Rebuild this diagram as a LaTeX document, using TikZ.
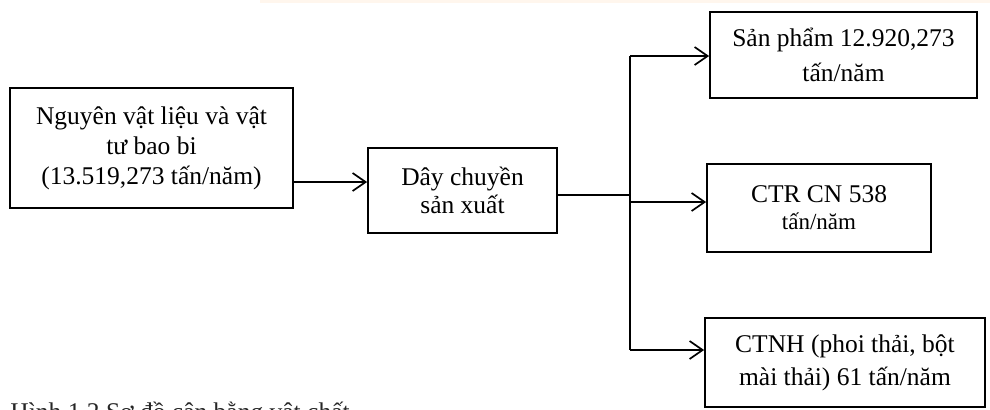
\documentclass[tikz,border=0pt]{standalone}
\usepackage{fontspec}
\setmainfont{Liberation Serif}
\usetikzlibrary{arrows.meta}
\begin{document}
\begin{tikzpicture}[x=0.5pt,y=-0.5pt,
  box/.style={draw, line width=0.9pt, align=center, inner sep=0pt,
    font=\fontsize{12.75pt}{15pt}\selectfont},
  flow/.style={line width=0.85pt,
    -{Straight Barb[length=6.5pt,width=9pt,line width=0.85pt]}},
  link/.style={line width=0.85pt}]
\useasboundingbox (0,0) rectangle (990,409);
\clip (0,0) rectangle (990,409);
\fill[orange!7] (260,0) rectangle (990,3);

% boxes
\node[box, minimum width=141.5pt, minimum height=60pt] (b1) at (151.5,148)
  {Nguyên vật liệu và vật\\tư bao bi\\(13.519,273 tấn/năm)};
\node[box, minimum width=94.5pt, minimum height=42.5pt,
  font=\fontsize{12.75pt}{14pt}\selectfont] (b2) at (462.5,190.5)
  {Dây chuyền\\sản xuất};
\node[box, minimum width=133.5pt, minimum height=43pt,
  font=\fontsize{12.75pt}{17.5pt}\selectfont] (b3) at (843.5,55)
  {Sản phẩm 12.920,273\\tấn/năm};
\node[box, minimum width=112pt, minimum height=44pt,
  font=\fontsize{12.75pt}{13.5pt}\selectfont] (b4) at (819,208)
  {CTR CN 538\\{\fontsize{11.5pt}{13.5pt}\selectfont tấn/năm}};
\node[box, minimum width=140pt, minimum height=44.5pt,
  font=\fontsize{12.75pt}{16.5pt}\selectfont] (b5) at (845,362.5)
  {CTNH (phoi thải, bột\\mài thải) 61 tấn/năm};

% junction points of the branching line
\coordinate (a)  at (0,182);
\coordinate (j)  at (630,195);
\coordinate (jt) at (630,56);
\coordinate (jm) at (630,202);
\coordinate (jb) at (630,350);

% connectors
\draw[flow] (b1.east |- a) -- (b2.west |- a);
\draw[link] (b2.east |- j) -- (j);
\draw[link] (jt) -- (jb);
\draw[flow] (jt) -- (b3.west |- jt);
\draw[flow] (jm) -- (b4.west |- jm);
\draw[flow] (jb) -- (b5.west |- jb);

% caption, cut by the lower edge
\node[anchor=base west, inner sep=0pt, text=black!85,
  font=\fontsize{12.75pt}{15pt}\selectfont] (cap) at (10,420)
  {Hình 1.2 Sơ đồ cân bằng vật chất};
\end{tikzpicture}
\end{document}
